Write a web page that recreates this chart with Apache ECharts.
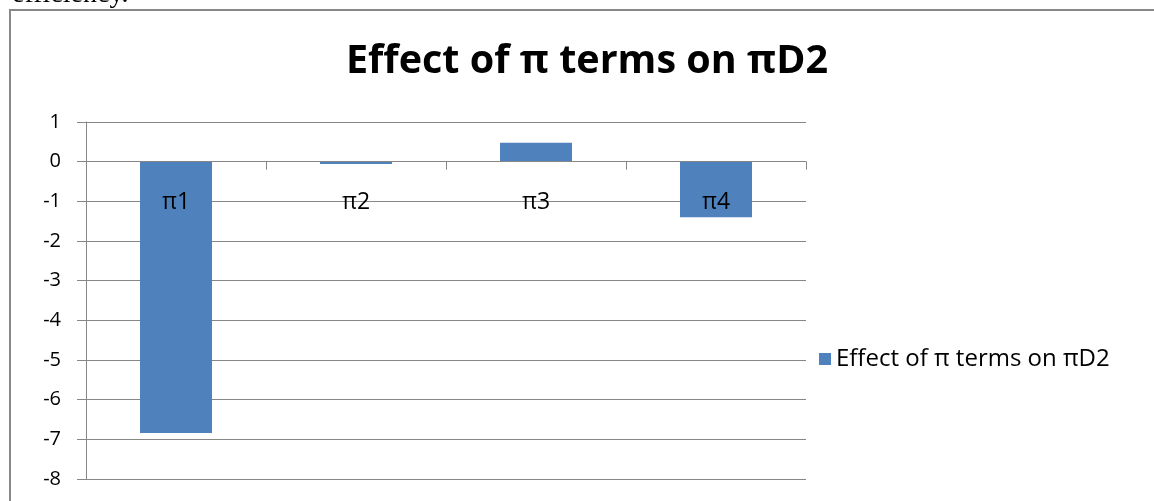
<!DOCTYPE html>
<html>
<head>
<meta charset="utf-8">
<script src="https://cdn.jsdelivr.net/npm/echarts@6/dist/echarts.min.js"></script>
<style>
  html, body { margin: 0; padding: 0; background: #fff; }
  #chart { width: 1154px; height: 501px; }
</style>
</head>
<body>
<div id="chart"></div>
<script>
// data
var categories = ["π1", "π2", "π3", "π4"];
var effects = [-6.84, -0.06, 0.48, -1.4];
var seriesName = "Effect of π terms on πD2";
var titleText = "Effect of π terms on πD2";

var font = "'Open Sans', 'Liberation Sans', sans-serif";
var gridGray = "#878787";

// plot box (px), zero line sits one unit below the top (max 1, min -8)
var plotTop = 122, plotBottom = 22, chartH = 501;
var plotH = chartH - plotTop - plotBottom;
var zeroOffset = plotH * 8 / 9;

var myChart = echarts.init(document.getElementById("chart"));
myChart.setOption({
  backgroundColor: "#fff",
  animation: false,
  title: {
    text: titleText,
    left: 341,
    top: 37,
    textStyle: { fontFamily: font, fontWeight: "bold", fontSize: 39.5, color: "#000" }
  },
  legend: {
    left: 814,
    top: 342,
    orient: "vertical",
    icon: "rect",
    itemWidth: 12,
    itemHeight: 12,
    itemGap: 8,
    data: [seriesName],
    textStyle: { fontFamily: font, fontSize: 24, color: "#000" }
  },
  // page frame and the clipped paragraph text above it
  graphic: [
    {
      type: "rect",
      shape: { x: 10, y: 10, width: 1160, height: 520 },
      style: { fill: null, stroke: "#888", lineWidth: 2 },
      silent: true
    },
    {
      type: "text",
      x: 12,
      y: 9,
      style: {
        text: "efficiency.",
        fontFamily: "'Liberation Serif', serif",
        fontSize: 28,
        fill: "#000",
        verticalAlign: "bottom"
      },
      silent: true
    }
  ],
  grid: {
    left: 86, right: 348, top: plotTop, bottom: plotBottom,
    containLabel: false, outerBoundsMode: "none"
  },
  xAxis: {
    type: "category",
    data: categories,
    z: 5,
    offset: -zeroOffset,
    axisLine: { onZero: false, lineStyle: { color: gridGray, width: 1 } },
    axisTick: { show: true, length: 8, lineStyle: { color: gridGray } },
    axisLabel: { margin: 29, fontFamily: font, fontSize: 23, color: "#000" }
  },
  yAxis: {
    type: "value",
    min: -8,
    max: 1,
    interval: 1,
    axisLine: { show: true, lineStyle: { color: gridGray, width: 1 } },
    axisTick: { show: true, length: 9, lineStyle: { color: gridGray } },
    splitLine: { show: true, lineStyle: { color: gridGray, width: 1 } },
    axisLabel: { margin: 25, fontFamily: font, fontSize: 20, color: "#000" }
  },
  series: [
    {
      name: seriesName,
      type: "bar",
      data: effects,
      barWidth: "40%",
      itemStyle: { color: "#4F81BD" }
    }
  ]
});
</script>
</body>
</html>
